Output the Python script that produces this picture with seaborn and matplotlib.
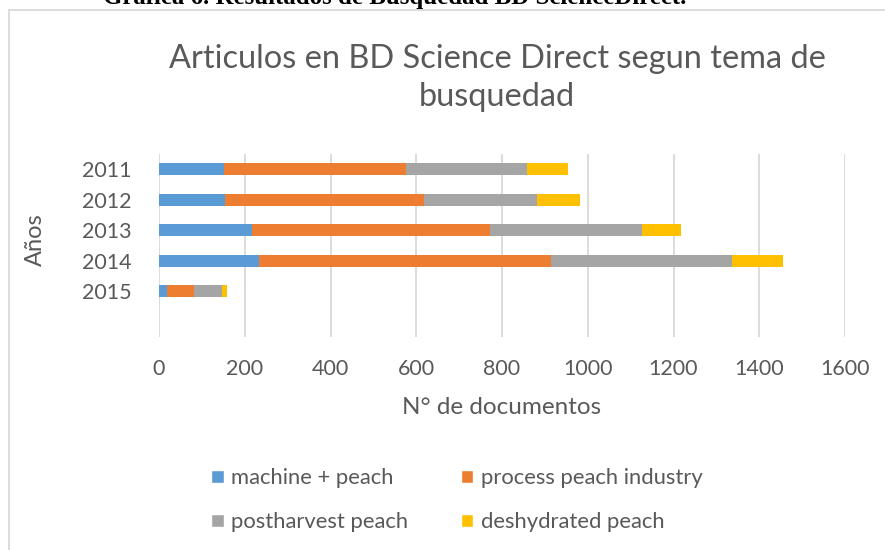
import numpy as np
import pandas as pd
import matplotlib.pyplot as plt
import seaborn as sns
from matplotlib.patches import Rectangle, Patch

years = ["2011", "2012", "2013", "2014", "2015"]
series_names = ["machine + peach", "process peach industry", "postharvest peach", "deshydrated peach"]
machine = [152, 154, 218, 234, 19]
process = [423, 465, 553, 680, 63]
postharvest = [284, 263, 355, 423, 65]
deshydrated = [96, 99, 91, 118, 11]
colors = ["#5B9BD5", "#ED7D31", "#A5A5A5", "#FFC000"]

TEXT = "#595959"
GRID = "#D9D9D9"

sns.set_style("white")
plt.rcParams["font.family"] = ["Lato", "DejaVu Sans"]

W, H = 885, 550
fig = plt.figure(figsize=(W / 100, H / 100), dpi=100)
ax = fig.add_axes([159 / W, 1 - 337 / H, (845 - 159) / W, (337 - 154) / H])

df = pd.DataFrame({"year": years, "machine": machine, "process": process,
                   "postharvest": postharvest, "deshydrated": deshydrated})
cols = ["machine", "process", "postharvest", "deshydrated"]
cum = df[cols].cumsum(axis=1)

# stacked bars: draw longest cumulative first
for col, color in reversed(list(zip(cols, colors))):
    sns.barplot(x=cum[col], y=df["year"], color=color, width=0.4,
                orient="h", ax=ax, saturation=1, linewidth=0)

ax.set_xlim(0, 1600)
ax.set_ylim(5.5, -0.5)
ax.set_xticks(np.arange(0, 1601, 200))
ax.xaxis.grid(True, color=GRID, linewidth=1.3)
ax.set_axisbelow(True)
for s in ax.spines.values():
    s.set_visible(False)
ax.tick_params(axis="both", length=0, labelsize=15.5, labelcolor=TEXT)
ax.tick_params(axis="x", pad=16)
ax.tick_params(axis="y", pad=20)

ax.set_xlabel("N° de documentos", fontsize=17.5, color=TEXT, va="center")
ax.xaxis.set_label_coords(0.5, -(408 - 337) / 183)
ax.set_ylabel("Años", fontsize=17, color=TEXT, va="center")
ax.yaxis.set_label_coords((35 - 159) / 686, (337 - 240) / 183)

fig.text(497 / W, 1 - 78 / H, "Articulos en BD Science Direct segun tema de\nbusquedad",
         ha="center", va="center", fontsize=23.4, color=TEXT, linespacing=1.3)

# caption cut at the top of the image, as in the source
fig.text(103 / W, 1 - 4 / H, "Gráfica 6. Resultados de Búsquedad BD ScienceDirect.",
         ha="left", va="baseline", fontsize=17.9, fontweight="bold",
         family="Liberation Serif", color="black")

# chart border
fig.patches.append(Rectangle((9 / W, -0.1), 1.2, 1 - 10 / H + 0.1, transform=fig.transFigure,
                             fill=False, edgecolor=GRID, linewidth=1.3))

handles = [Patch(facecolor=c, label=n) for c, n in zip(colors, series_names)]
order = [0, 2, 1, 3]
fig.legend([handles[i] for i in order], [series_names[i] for i in order],
           ncol=2, loc="center", bbox_to_anchor=(457 / W, 1 - 500 / H), frameon=False,
           fontsize=15.8, labelcolor=TEXT, handlelength=0.55, handleheight=0.55,
           handletextpad=0.35, columnspacing=2.4, labelspacing=1.1)

fig.savefig("out.png", dpi=100)
